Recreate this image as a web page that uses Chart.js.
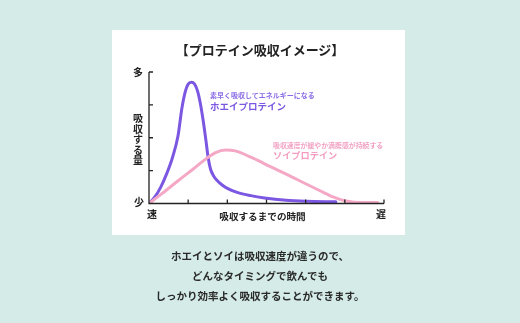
<!DOCTYPE html>
<html><head><meta charset="utf-8">
<script src="https://cdn.jsdelivr.net/npm/chart.js@4/dist/chart.umd.min.js"></script>
<style>
html,body{margin:0;padding:0;}
body{width:520px;height:323px;background:#d4ebe7;position:relative;overflow:hidden;font-family:"Noto Sans CJK JP","Noto Sans",sans-serif;}
#panel{position:absolute;left:112px;top:30px;width:293px;height:205px;background:#fff;}
#wrap{position:absolute;left:0;top:0;width:520px;height:323px;}
.t{position:absolute;white-space:nowrap;line-height:1;color:#222;font-weight:700;}
</style></head>
<body>
<div id="panel"></div>
<div id="wrap"><canvas id="c" width="520" height="323"></canvas></div>
<div class="t" style="left:0;width:520px;text-align:center;top:43px;font-size:13px;">【プロテイン吸収イメージ】</div>
<div class="t" style="left:133px;top:67px;font-size:10px;">多</div>
<div class="t" style="left:134px;top:197px;font-size:10px;">少</div>
<div class="t" style="left:133px;top:113px;font-size:10px;line-height:10.5px;width:10px;">吸<br>収<br>す<br>る<br>量</div>
<div class="t" style="left:147px;top:209px;font-size:10px;">速</div>
<div class="t" style="left:376px;top:209px;font-size:10px;">遅</div>
<div class="t" style="left:0;width:525px;text-align:center;top:212px;font-size:9.6px;">吸収するまでの時間</div>
<div class="t" style="left:210px;top:92px;font-size:7px;color:#8a6ce6;">素早く吸収してエネルギーになる</div>
<div class="t" style="left:210px;top:102px;font-size:9.5px;color:#7b58e2;">ホエイプロテイン</div>
<div class="t" style="left:273px;top:142px;font-size:6.9px;color:#f2a3c4;">吸収速度が緩やか満腹感が持続する</div>
<div class="t" style="left:273px;top:151px;font-size:9.2px;color:#f39cc0;">ソイプロテイン</div>
<div class="t" style="left:0;width:520px;text-align:center;top:251px;font-size:10.5px;color:#2a2a2a;">ホエイとソイは吸収速度が違うので、</div>
<div class="t" style="left:0;width:520px;text-align:center;top:271px;font-size:10.5px;color:#2a2a2a;">どんなタイミングで飲んでも</div>
<div class="t" style="left:0;width:520px;text-align:center;top:291px;font-size:10.5px;color:#2a2a2a;">しっかり効率よく吸収することができます。</div>
<script>
const wheyX = [0, 0.15, 0.3, 0.45, 0.6, 0.74, 0.84, 0.93, 1.0, 1.08, 1.16, 1.24, 1.31, 1.38, 1.45, 1.51, 1.57, 1.65, 1.74, 1.86, 2.0, 2.25, 2.6, 2.95, 3.5, 4.0, 4.77];
const wheyY = [0, 0.2, 0.5, 0.9, 1.4, 2.05, 2.9, 3.42, 3.63, 3.69, 3.64, 3.42, 3.05, 2.55, 1.95, 1.4, 1.05, 0.84, 0.7, 0.57, 0.46, 0.34, 0.24, 0.17, 0.1, 0.07, 0.05];
const soyX = [0, 0.33, 0.75, 1.13, 1.48, 1.7, 1.95, 2.2, 2.67, 3.1, 3.53, 4.0, 4.38, 4.7, 4.97, 5.24, 5.84];
const soyY = [0, 0.3, 0.7, 1.05, 1.38, 1.55, 1.63, 1.6, 1.37, 1.12, 0.88, 0.6, 0.38, 0.2, 0.09, 0.04, 0.03];
const xTicks = [1, 2, 3, 4, 5, 6];
const yTicks = [1, 2, 3, 4];

const pts = (xs, ys) => xs.map((x, i) => ({x, y: ys[i]}));

const axesPlugin = {
  id: 'axes',
  afterDatasetsDraw(chart) {
    const {ctx, scales: {x, y}} = chart;
    const x0 = x.getPixelForValue(0), y0 = y.getPixelForValue(0);
    const x1 = x.getPixelForValue(6), y1 = y.getPixelForValue(4);
    ctx.save();
    ctx.strokeStyle = '#222';
    ctx.lineWidth = 1.3;
    ctx.beginPath();
    ctx.moveTo(x0, y1); ctx.lineTo(x0, y0); ctx.lineTo(x1, y0);
    yTicks.forEach(v => { const p = y.getPixelForValue(v); ctx.moveTo(x0, p); ctx.lineTo(x0 + 4, p); });
    xTicks.forEach(v => { const p = x.getPixelForValue(v); ctx.moveTo(p, y0); ctx.lineTo(p, y0 - 4); });
    ctx.stroke();
    ctx.restore();
  }
};

new Chart(document.getElementById('c'), {
  type: 'line',
  data: {
    datasets: [
      {data: pts(soyX, soyY), borderColor: '#f5a8c6', borderWidth: 3, pointRadius: 0, cubicInterpolationMode: 'monotone', fill: false},
      {data: pts(wheyX, wheyY), borderColor: '#7b57e2', borderWidth: 3, pointRadius: 0, cubicInterpolationMode: 'monotone', fill: false}
    ]
  },
  options: {
    responsive: false,
    animation: false,
    layout: {padding: {left: 149, right: 136, top: 72, bottom: 119.5}},
    plugins: {legend: {display: false}, tooltip: {enabled: false}},
    scales: {
      x: {type: 'linear', min: 0, max: 6, display: false},
      y: {type: 'linear', min: 0, max: 4, display: false}
    },
    elements: {line: {borderCapStyle: 'round', borderJoinStyle: 'round'}}
  },
  plugins: [axesPlugin]
});
</script>
</body></html>
